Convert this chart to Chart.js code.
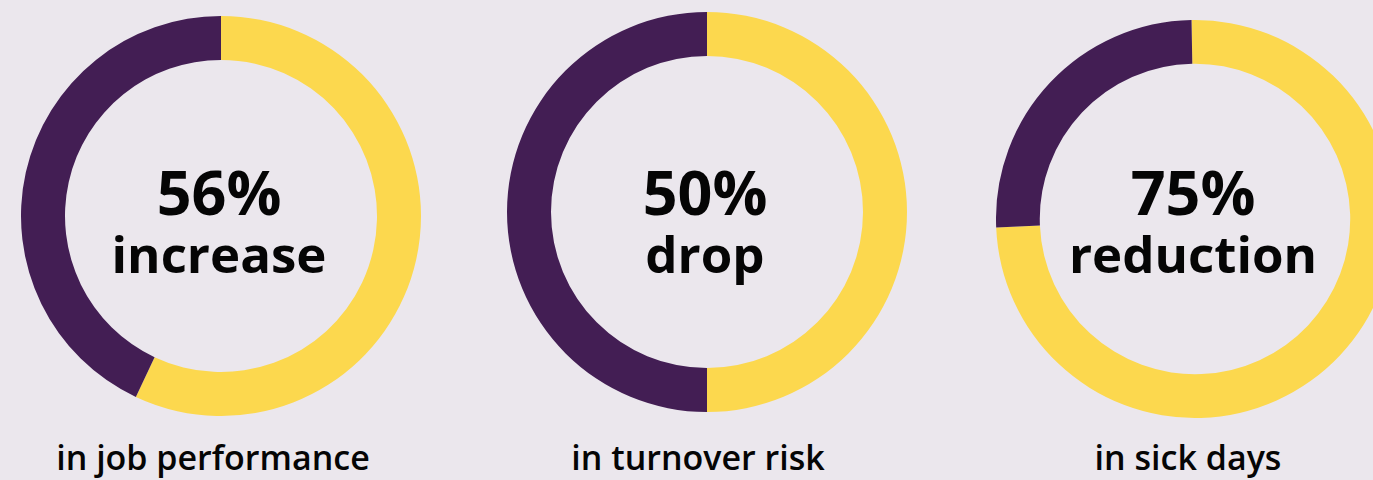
<!DOCTYPE html>
<html>
<head>
<meta charset="utf-8">
<script src="https://cdn.jsdelivr.net/npm/chart.js@4/dist/chart.umd.min.js"></script>
<style>
  html, body { margin: 0; padding: 0; }
  body { width: 1373px; height: 480px; background: #EBE7ED; position: relative; overflow: hidden;
         font-family: "Open Sans", "Noto Sans", sans-serif; color: #050505; }
  .wrap { position: absolute; }
  .wrap canvas { display: block; }
  .center { position: absolute; text-align: center; font-weight: 700; white-space: nowrap; }
  .big { font-size: 61px; line-height: 1; }
  .word { font-size: 51px; line-height: 1; margin-top: 6px; }
  .sub { position: absolute; font-weight: 600; font-size: 34px; white-space: nowrap; text-align: center; line-height: 1; }
</style>
</head>
<body>
<script>
// ---- data ----
const percentLabels = ["56%", "50%", "75%"];
const changeWords   = ["increase", "drop", "reduction"];
const subLabels     = ["in job performance", "in turnover risk", "in sick days"];
const highlightValues = [57, 50, 74.6];   // yellow arc share (as drawn)
const remainderValues = [43, 50, 25.4];   // purple arc share (as drawn)

const YELLOW = "#FCD84E";
const PURPLE = "#431E54";

// ---- layout (px) ----
const layout = [
  { cx: 221,  cy: 216, r: 200, rot: 0,  textX: 219,  subX: 213 },
  { cx: 707,  cy: 212, r: 200, rot: 0,  textX: 705,  subX: 698 },
  { cx: 1195, cy: 219, r: 199, rot: -1, textX: 1193, subX: 1188 }
];

layout.forEach((L, i) => {
  const wrap = document.createElement("div");
  wrap.className = "wrap";
  wrap.style.left = (L.cx - L.r) + "px";
  wrap.style.top = (L.cy - L.r) + "px";
  wrap.style.width = (2 * L.r) + "px";
  wrap.style.height = (2 * L.r) + "px";
  const cv = document.createElement("canvas");
  wrap.appendChild(cv);
  document.body.appendChild(wrap);

  new Chart(cv, {
    type: "doughnut",
    data: {
      labels: ["highlight", "rest"],
      datasets: [{
        data: [highlightValues[i], remainderValues[i]],
        backgroundColor: [YELLOW, PURPLE],
        borderWidth: 0,
        hoverOffset: 0
      }]
    },
    options: {
      responsive: true,
      maintainAspectRatio: false,
      animation: false,
      cutout: "78%",
      rotation: L.rot,
      layout: { padding: 0 },
      plugins: { legend: { display: false }, tooltip: { enabled: false } },
      events: []
    }
  });

  const c = document.createElement("div");
  c.className = "center";
  c.style.left = (L.textX - 200) + "px";
  c.style.width = "400px";
  c.style.top = "161px";
  c.innerHTML = '<div class="big">' + percentLabels[i] + '</div><div class="word">' + changeWords[i] + '</div>';
  document.body.appendChild(c);

  const s = document.createElement("div");
  s.className = "sub";
  s.style.left = (L.subX - 250) + "px";
  s.style.width = "500px";
  s.style.top = "440px";
  s.textContent = subLabels[i];
  document.body.appendChild(s);
});
</script>
</body>
</html>
